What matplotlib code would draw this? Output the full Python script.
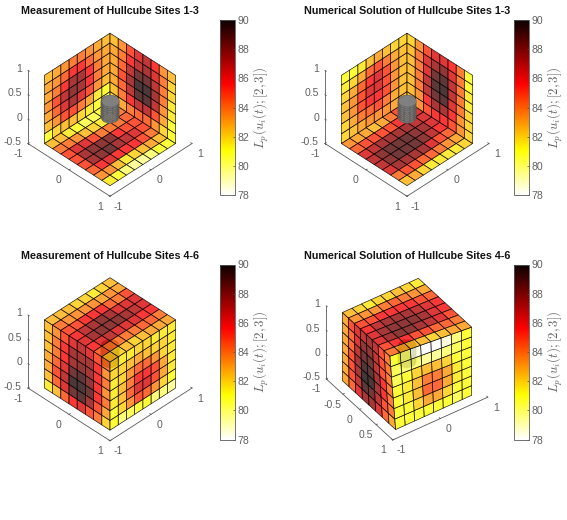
import numpy as np
import matplotlib
matplotlib.use('Agg')
import matplotlib.pyplot as plt
from matplotlib.cm import ScalarMappable
from matplotlib.colors import Normalize
from mpl_toolkits.mplot3d import proj3d
from mpl_toolkits.mplot3d.art3d import Poly3DCollection

plt.rcParams['font.family'] = ['Liberation Sans', 'DejaVu Sans']
plt.rcParams['mathtext.fontset'] = 'cm'

# Wall and side faces: rows run top to bottom, columns left to right.
# Floor and top faces: rows follow x, columns follow y.
m13_left = [[82.5, 83, 83.5, 84, 84, 83.5, 83, 82.5],
            [83, 83.5, 84.5, 85.7, 85.7, 84.5, 83.5, 83],
            [83, 84, 85.7, 87.6, 87.6, 85.7, 84, 83],
            [83.5, 85, 87, 88.2, 87.6, 85.7, 84, 83],
            [83, 84.5, 86.3, 87.6, 86.3, 85, 83.5, 82.5],
            [82.5, 83.5, 85, 85, 84, 83, 81.5, 81],
            [81, 82, 82.5, 82.5, 82, 81.5, 81, 80.5]]
m13_right = [[82.5, 83.5, 85, 86.3, 87, 85.7, 83.5, 82.5],
             [83, 84, 85.7, 87, 87.6, 86.3, 84, 82],
             [83, 84.5, 87, 88.8, 88.8, 87, 84, 82],
             [83, 85, 87.6, 89.7, 89.7, 87.6, 84, 81.5],
             [83, 84.5, 87, 89.3, 89.3, 87, 83.5, 81.5],
             [82.5, 84, 85.7, 87, 87, 85, 83, 81],
             [82, 83, 84, 84.5, 84.5, 83.5, 82, 81]]
m13_floor = [[82.5, 82.5, 81.5, 81, 80.5, 80.5, 81, 83],
             [84, 84, 83.5, 82.5, 82, 81.5, 82, 84],
             [85, 86.3, 86.3, 85, 84, 84, 84, 84.5],
             [85, 87.6, 88.2, 88.2, 88.2, 85.7, 85, 85],
             [85, 87.6, 88.2, 88.8, 87.6, 87, 86.3, 85],
             [84.5, 85.7, 86.3, 85.7, 85.7, 85.7, 85, 84],
             [83.5, 83.5, 82.5, 81.5, 82, 82.5, 83, 82.5],
             [81.5, 81, 80, 79.5, 79.5, 80, 81, 81]]

n13_left = [[81, 81, 81.5, 82.5, 83, 82.5, 82, 82],
            [81.5, 82, 83, 84.5, 85, 84, 83, 82.5],
            [82, 83, 84.5, 85.7, 86.3, 85, 83.5, 82.5],
            [82.5, 83.5, 85, 86.3, 86.3, 85, 83.5, 82.5],
            [82.5, 83.5, 85, 85.7, 85.7, 85, 83.5, 82.5],
            [82, 83, 84, 84.5, 85, 84, 83, 82.5],
            [82, 82.5, 83, 83.5, 83.5, 83.5, 83, 82.5]]
n13_right = [[82, 83.5, 85, 86.3, 86.3, 85.7, 84, 81],
             [82.5, 84, 86.3, 87.6, 88.2, 86.3, 84, 81],
             [82.5, 84, 86.3, 88.8, 89.3, 87, 84, 81.5],
             [82.5, 84, 87, 89.3, 89.7, 87, 84, 81.5],
             [82.5, 84, 87, 88.8, 89.3, 86.3, 84, 82],
             [82.5, 83.5, 85.7, 87.6, 87.6, 85.7, 83.5, 82],
             [82.5, 83.5, 85, 85.7, 85.7, 85, 83.5, 82]]
n13_floor = [[83.5, 83, 83, 82.5, 83, 84, 85, 85.7],
             [84.5, 85, 85, 85, 85, 85.7, 86.3, 86.3],
             [86.3, 87, 87.6, 87.6, 87.6, 87.6, 87, 86.3],
             [87, 88.2, 88.8, 88.8, 88.8, 88.2, 87.6, 86.3],
             [87, 88.2, 88.8, 88.8, 88.8, 88.2, 87, 85.7],
             [86.3, 87.6, 87.6, 87.6, 87.6, 86.3, 85, 84.5],
             [84, 85, 85, 84.5, 84.5, 84, 83.5, 83],
             [82.5, 83, 82, 81.5, 81.5, 81.5, 81.5, 82]]

m46_left = [[82.5, 83.5, 85, 86.3, 87, 86.3, 85, 84],
            [82.5, 84, 85.7, 87.6, 87.6, 87.6, 85.7, 83.5],
            [82.5, 84, 85.7, 87.6, 88.2, 87.6, 85.7, 84],
            [83, 84.5, 86.3, 88.8, 89.3, 88.2, 85.7, 83.5],
            [83, 85, 87, 89.7, 89.7, 88.8, 85.7, 84],
            [82.5, 84.5, 86.3, 88.8, 89.3, 87.6, 85, 83],
            [81.5, 82.5, 84.5, 85.7, 86.3, 85, 84, 82]]
m46_right = [[82, 81.5, 81.5, 82, 82, 81.5, 81.5, 81.5],
             [82, 82, 82.5, 83, 82.5, 82, 82, 81.5],
             [81.5, 82, 83.5, 84.5, 84.5, 83.5, 82, 81.5],
             [81.5, 82.5, 84, 85.7, 85.7, 85, 83, 81.5],
             [81.5, 82.5, 84.5, 86.3, 86.3, 85, 83, 81.5],
             [81, 82, 83.5, 85, 84.5, 83.5, 82, 81],
             [81, 80, 80.5, 81, 81, 80, 80, 79.5]]
m46_top = [[82.5, 82.5, 82.5, 82, 82, 81.5, 82, 82.5],
           [84, 83.5, 83.5, 83.5, 83.5, 83, 83.5, 83],
           [85, 85, 85.7, 85.7, 85.7, 84.5, 84, 85],
           [85.7, 87, 87.6, 88.2, 87.6, 86.3, 86.3, 86.3],
           [86.3, 87.6, 88.2, 88.2, 88.2, 87.6, 87, 86.3],
           [85.7, 86.3, 87, 86.3, 86.3, 86.3, 85.7, 85.7],
           [84.5, 84, 84, 84, 84, 84.5, 84.5, 84],
           [82.5, 82, 82.5, 82, 82.5, 83, 83, 83]]

n46_left = [[83, 85, 86.3, 87, 87.6, 87, 85, 84],
            [83, 84.5, 86.3, 88.2, 88.2, 87, 85, 84],
            [83, 84.5, 87, 88.8, 88.8, 87, 85, 84],
            [83, 85, 87.6, 89.7, 89.3, 87.6, 85.7, 84],
            [83, 85, 87.6, 90, 89.7, 87.6, 85.7, 84],
            [83, 85, 87, 89.3, 88.8, 87, 85, 84],
            [83, 84.5, 86.3, 87.6, 87.6, 86.3, 84.5, 83]]
n46_right = [[81, 80, 78.5, 78, 78, 78.5, 80, 81],
             [80.5, 80, 80, 79.5, 79.5, 80, 80.5, 81],
             [80.5, 81, 82, 82.5, 82.5, 82, 81, 81],
             [81, 81.5, 82.5, 84, 84, 83, 81.5, 81],
             [81, 81.5, 82.5, 84.5, 84.5, 83, 81.5, 81],
             [81, 81, 82, 83, 83, 82, 81, 81],
             [81, 81, 81, 81, 81, 81, 80.5, 81]]
n46_top = [[82.5, 82, 81.5, 82, 82, 82.5, 82, 81.5],
           [83.5, 83.5, 83.5, 84, 84.5, 84, 83.5, 83],
           [85, 85, 85.7, 85.7, 85.7, 85.7, 85, 84.5],
           [85.7, 87, 87.6, 87.6, 87.6, 87, 86.3, 85.7],
           [86.3, 87.6, 88.2, 88.2, 88.2, 87.6, 86.3, 85.7],
           [86.3, 87.6, 88.2, 88.2, 87.6, 87, 86.3, 85],
           [85, 85.7, 85.7, 85, 85, 84.5, 84.5, 84],
           [84, 83, 82.5, 82.5, 82, 82.5, 83, 83]]

titles = ['Measurement of Hullcube Sites 1-3', 'Numerical Solution of Hullcube Sites 1-3',
          'Measurement of Hullcube Sites 4-6', 'Numerical Solution of Hullcube Sites 4-6']
x_ticks = [[-1, 0, 1], [-1, 0, 1], [-1, 0, 1], [-1, -0.5, 0, 0.5, 1]]
y_ticks = [-1, 0, 1]
z_ticks = [-0.5, 0, 0.5, 1]
cbar_ticks = [78, 80, 82, 84, 86, 88, 90]

W, H = 567, 520
AX_PX = 200
TEXT_GREY = '0.38'

xy_edges = np.linspace(-0.8, 0.8, 9)
z_edges = np.linspace(-0.5, 0.9, 8)
norm = Normalize(78, 90)
cmap = plt.get_cmap('hot_r')


def add_face(ax, values, corner, zorder):
    # corner(i, j) gives the 3D point at row edge i, column edge j
    values = np.asarray(values, dtype=float)
    polys = []
    for i in range(values.shape[0]):
        for j in range(values.shape[1]):
            polys.append([corner(i, j), corner(i, j + 1), corner(i + 1, j + 1), corner(i + 1, j)])
    colours = cmap(norm(values.ravel()))
    colours[:, 3] = 0.78
    pc = Poly3DCollection(polys, facecolors=colours, edgecolors=(0, 0, 0, 0.85), linewidths=0.5)
    pc.set_zorder(zorder)
    ax.add_collection3d(pc)


def add_hull(ax, zorder):
    # grey cylinder floating in the middle of the cube
    theta = np.linspace(0, 2 * np.pi, 37)
    heights = np.linspace(0.03, 0.38, 9)
    r = 0.15
    side = []
    for k in range(len(heights) - 1):
        for t in range(len(theta) - 1):
            side.append([(r * np.cos(theta[t]), r * np.sin(theta[t]), heights[k]),
                         (r * np.cos(theta[t + 1]), r * np.sin(theta[t + 1]), heights[k]),
                         (r * np.cos(theta[t + 1]), r * np.sin(theta[t + 1]), heights[k + 1]),
                         (r * np.cos(theta[t]), r * np.sin(theta[t]), heights[k + 1])])
    cap = [[(r * np.cos(a), r * np.sin(a), heights[-1]) for a in theta]]
    body = Poly3DCollection(side, facecolors='0.5', edgecolors='0.33', linewidths=0.2)
    top = Poly3DCollection(cap, facecolors='0.5', edgecolors='0.4', linewidths=0.2)
    body.set_zorder(zorder)
    top.set_zorder(zorder + 0.1)
    ax.add_collection3d(body)
    ax.add_collection3d(top)


def draw_axes_lines(ax, xt, yt, zt):
    # hand drawn box edges, MATLAB style: two floor edges and one upright
    style = dict(color='0.35', lw=0.6, zorder=0.5)
    ax.plot([-1, 1], [-1, -1], [-0.5, -0.5], **style)
    ax.plot([1, 1], [-1, 1], [-0.5, -0.5], **style)
    ax.plot([-1, -1], [-1, -1], [-0.5, 1], **style)
    for t in xt:
        ax.plot([t, t], [-1, -0.97], [-0.5, -0.5], **style)
    for t in yt:
        ax.plot([1, 0.97], [t, t], [-0.5, -0.5], **style)
    for t in zt:
        ax.plot([-1, -0.97], [-1, -1], [t, t], **style)

    M = ax.get_proj()

    def label(x, y, z, txt, dx, dy, ha='center'):
        px, py, _ = proj3d.proj_transform(x, y, z, M)
        ax.annotate(txt, (px, py), xytext=(dx, dy), textcoords='offset pixels',
                    ha=ha, va='center', fontsize=7.6, color=TEXT_GREY)

    for t in xt:
        label(t, -1, -0.5, f'{t:g}', -10, -10.5)
    for t in yt:
        label(1, t, -0.5, f'{t:g}', 8, -10.5)
    for t in zt:
        label(-1, -1, t, f'{t:g}', -6, 1.5, ha='right')


def make_panel(fig, cx, cy, azim, title, cbar_left, draw_faces, xt):
    left = (cx - 0.5135 * AX_PX) / W
    bottom = (H - cy - 0.5135 * AX_PX) / H
    ax = fig.add_axes([left, bottom, AX_PX / W, AX_PX / H], projection='3d', computed_zorder=False)
    ax.set_proj_type('ortho')
    ax.view_init(elev=40, azim=azim)
    ax.set_xlim(-1, 1)
    ax.set_ylim(-1, 1)
    ax.set_zlim(-0.5, 1)
    ax.set_box_aspect((1, 1, 0.822), zoom=0.921)
    ax.set_axis_off()
    ax.patch.set_alpha(0)

    draw_axes_lines(ax, xt, y_ticks, z_ticks)
    draw_faces(ax)

    fig.text(cx / W, (H - cy + 95.5) / H, title, ha='center', va='center',
             fontsize=7.75, fontweight='bold', color='0.08')

    cax = fig.add_axes([cbar_left / W, (H - cy - 88) / H, 15 / W, 175 / H])
    cb = fig.colorbar(ScalarMappable(norm=norm, cmap=cmap), cax=cax)
    cb.set_ticks(cbar_ticks)
    cb.ax.tick_params(direction='in', length=1.5, width=0.5, color='0.3',
                      labelsize=7.6, labelcolor=TEXT_GREY, pad=2)
    cb.outline.set_edgecolor('0.35')
    cb.outline.set_linewidth(0.6)
    cb.set_label(r'$L_p(u_i(t);[2,3])$', fontsize=9.3, color=TEXT_GREY, labelpad=2)


def inside_faces(left, right, floor):
    def draw(ax):
        add_face(ax, floor, lambda i, j: (xy_edges[i], xy_edges[j], -0.5), 1)
        add_face(ax, left, lambda i, j: (-0.8, xy_edges[j], z_edges[7 - i]), 1.1)
        add_face(ax, right, lambda i, j: (xy_edges[j], 0.8, z_edges[7 - i]), 1.2)
        add_hull(ax, 3)
    return draw


def outside_faces(left, right, top, dent=0.0):
    # dent pulls the upper front corner back along x
    def draw(ax):
        add_hull(ax, 1)
        add_face(ax, left, lambda i, j: (xy_edges[j] - dent * (j / 8) * ((7 - i) / 7), -0.8, z_edges[7 - i]), 2)
        add_face(ax, right, lambda i, j: (0.8 - dent * ((8 - j) / 8) * ((7 - i) / 7), xy_edges[j], z_edges[7 - i]), 2.1)
        add_face(ax, top, lambda i, j: (xy_edges[i] - dent * (i / 8) * ((8 - j) / 8), xy_edges[j], 0.9), 2.2)
    return draw


def plot_all():
    fig = plt.figure(figsize=(W / 100, H / 100), dpi=100)
    make_panel(fig, 110, 107, -45, titles[0], 220, inside_faces(m13_left, m13_right, m13_floor), x_ticks[0])
    make_panel(fig, 407, 107, -45, titles[1], 514, inside_faces(n13_left, n13_right, n13_floor), x_ticks[1])
    make_panel(fig, 110, 351.5, -45, titles[2], 220, outside_faces(m46_left, m46_right, m46_top), x_ticks[2])
    make_panel(fig, 407, 351.5, -35, titles[3], 514, outside_faces(n46_left, n46_right, n46_top, dent=0.17), x_ticks[3])
    fig.savefig('out.png', dpi=100)


if __name__ == "__main__":
    plot_all()
